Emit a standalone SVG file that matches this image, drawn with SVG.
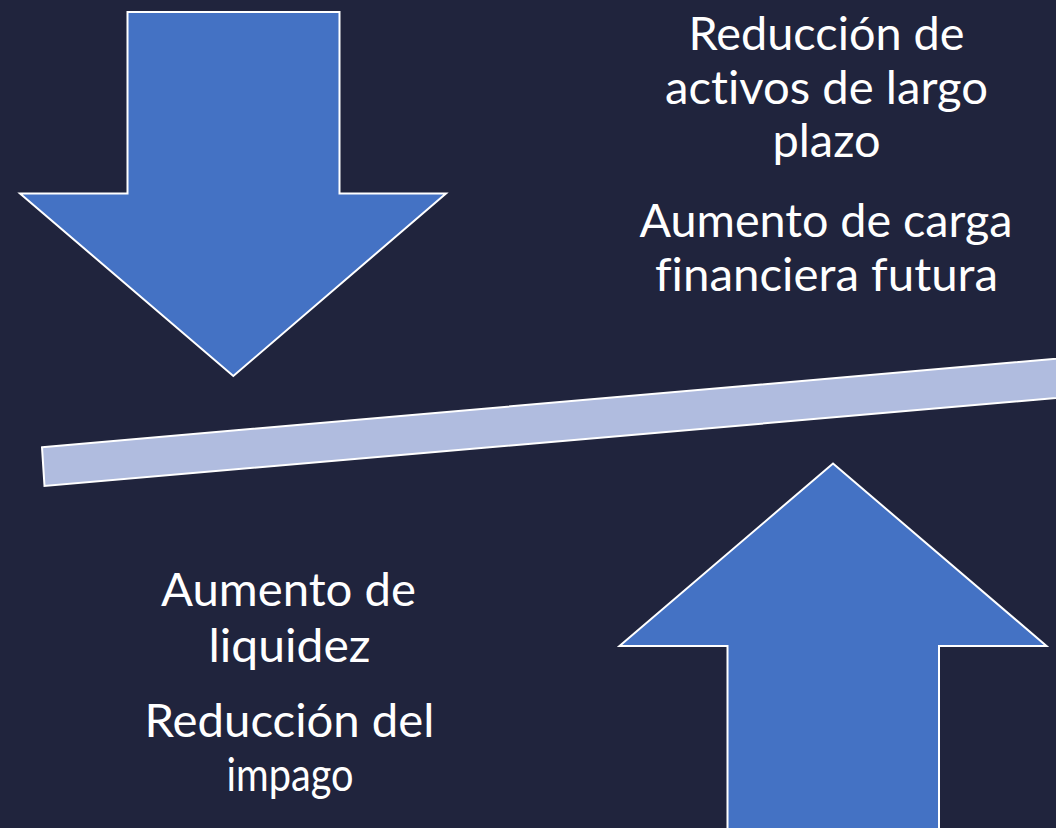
<svg xmlns="http://www.w3.org/2000/svg" width="1056" height="828" viewBox="0 0 1056 828">
<style>
.arrow{fill:#4472C4;stroke:#FFFFFF;stroke-width:2;stroke-linejoin:miter}
.bar{fill:#B0BCDF;stroke:#FFFFFF;stroke-width:2}
.t{font-family:Lato,"Open Sans","Liberation Sans",sans-serif;font-size:46px;fill:#FFFFFF;text-anchor:middle;font-variant-ligatures:none;font-feature-settings:"liga" 0}
</style>
<rect x="0" y="0" width="1056" height="828" fill="#20243D"/>
<g id="down-arrow">
<polygon class="arrow" points="127.5,12 339.5,12 339.5,193.5 446,193.5 233.3,376 20,193.5 127.5,193.5"/>
</g>
<g id="balance-bar">
<polygon class="bar" points="42,447.3 1080,356.6 1083.4,395.6 44.5,486"/>
</g>
<g id="up-arrow">
<polygon class="arrow" points="833,463.5 1046.5,646 939,646 939,830 727.5,830 727.5,646 619.5,646"/>
</g>
<g id="text-top-right">
<text class="t" x="826.5" y="50" textLength="276" lengthAdjust="spacingAndGlyphs">Reducción de</text>
<text class="t" x="826.5" y="103.5" textLength="323" lengthAdjust="spacingAndGlyphs">activos de largo</text>
<text class="t" x="826.5" y="157" textLength="108" lengthAdjust="spacingAndGlyphs">plazo</text>
<text class="t" x="826" y="237" textLength="373" lengthAdjust="spacingAndGlyphs">Aumento de carga</text>
<text class="t" x="826.5" y="291" textLength="343" lengthAdjust="spacingAndGlyphs">financiera futura</text>
</g>
<g id="text-bottom-left">
<text class="t" x="288.5" y="606" textLength="255" lengthAdjust="spacingAndGlyphs">Aumento de</text>
<text class="t" x="289.5" y="662" textLength="162" lengthAdjust="spacingAndGlyphs">liquidez</text>
<text class="t" x="289.5" y="737" textLength="290" lengthAdjust="spacingAndGlyphs">Reducción del</text>
<text class="t" x="290" y="791" textLength="127" lengthAdjust="spacingAndGlyphs">impago</text>
</g>
</svg>
